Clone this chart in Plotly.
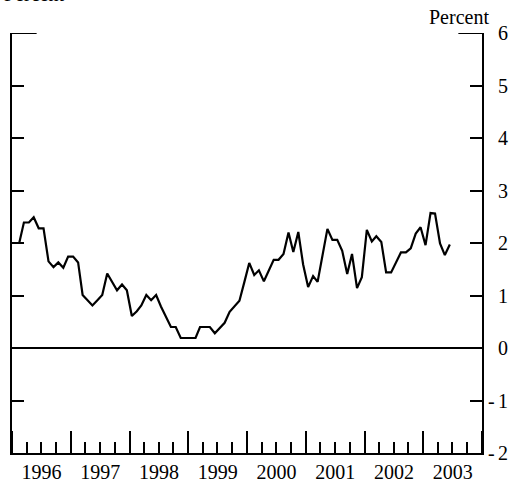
import pandas as pd
import plotly.graph_objects as go

# Monthly observations, Jan 1996 - Jun 2003
start_month = "1996-01-01"
values = [
    2.00, 2.00, 2.39, 2.39, 2.49, 2.28, 2.28, 1.65, 1.54, 1.63, 1.53, 1.74,
    1.74, 1.63, 1.01, 0.90, 0.81, 0.91, 1.01, 1.42, 1.27, 1.10, 1.21, 1.10,
    0.61, 0.70, 0.81, 1.01, 0.91, 1.01, 0.79, 0.60, 0.40, 0.40, 0.19, 0.19,
    0.19, 0.19, 0.40, 0.40, 0.40, 0.28, 0.37, 0.48, 0.69, 0.79, 0.90, 1.25,
    1.62, 1.39, 1.48, 1.27, 1.46, 1.68, 1.68, 1.79, 2.20, 1.83, 2.21, 1.59,
    1.16, 1.37, 1.26, 1.75, 2.27, 2.06, 2.06, 1.85, 1.41, 1.79, 1.14, 1.35,
    2.25, 2.03, 2.13, 2.02, 1.44, 1.44, 1.62, 1.82, 1.82, 1.90, 2.18, 2.30,
    1.96, 2.57, 2.56, 1.99, 1.77, 1.97,
]
months = pd.date_range(start_month, periods=len(values), freq="MS") + pd.Timedelta(days=14)

y_tickvals = [-2, -1, 0, 1, 2, 3, 4, 5, 6]
y_ticktext = [("-\u2006" + str(-v)) if v < 0 else ("\u2004\u2006" + str(v)) for v in y_tickvals]

FONT = "Liberation Serif, Times New Roman, serif"
FS = 20

fig = go.Figure()
fig.add_trace(go.Scatter(
    x=months, y=values, mode="lines",
    line=dict(color="black", width=2.2),
    showlegend=False, hoverinfo="skip",
))

fig.update_layout(
    width=518, height=493,
    margin=dict(l=10, r=31, t=33, b=27),
    paper_bgcolor="white", plot_bgcolor="white",
    font=dict(family=FONT, size=FS, color="black"),
    hovermode=False,
    xaxis=dict(
        type="date",
        range=["1996-01-01", "2004-01-01"],
        tick0="1996-01-01", dtick="M12",
        tickformat="%Y", ticklabelmode="period",
        ticks="inside", ticklen=22, tickwidth=2, tickcolor="black",
        minor=dict(dtick="M3", ticks="inside", ticklen=11, tickwidth=2, tickcolor="black", showgrid=False),
        showline=True, linecolor="black", linewidth=2,
        showgrid=False, zeroline=False,
        tickfont=dict(family=FONT, size=FS),
    ),
    yaxis=dict(
        range=[-2, 6], side="right",
        tickvals=y_tickvals, ticktext=y_ticktext,
        ticks="inside", ticklen=12, tickwidth=2, tickcolor="black",
        showline=True, linecolor="black", linewidth=2, mirror="ticks",
        showgrid=False,
        zeroline=True, zerolinecolor="black", zerolinewidth=2,
        tickfont=dict(family=FONT, size=FS),
    ),
    shapes=[
        dict(type="line", xref="paper", yref="y", x0=0, x1=25 / 477, y0=6, y1=6,
             line=dict(color="black", width=2)),
        dict(type="line", xref="paper", yref="y", x0=1 - 24 / 477, x1=1, y0=6, y1=6,
             line=dict(color="black", width=2)),
    ],
    annotations=[
        dict(text="Percent", xref="paper", yref="paper", x=1.019, y=1.037,
             xanchor="right", yanchor="middle", showarrow=False,
             font=dict(family=FONT, size=FS)),
        dict(text="Percent", xref="paper", yref="paper", x=-10 / 477, y=1.0623,
             xanchor="left", yanchor="bottom", showarrow=False,
             font=dict(family=FONT, size=FS)),
    ],
)

fig.write_html(
    "out.html",
    config={"displayModeBar": False, "staticPlot": True},
    post_script="document.body.style.margin='0';document.body.style.overflow='hidden';",
)
